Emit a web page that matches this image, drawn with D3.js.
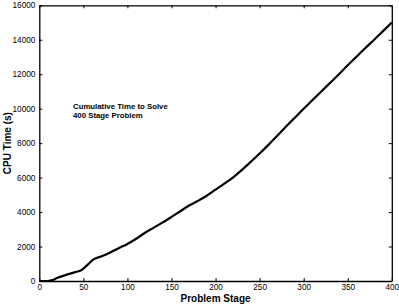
<!DOCTYPE html>
<html><head><meta charset="utf-8">
<script src="https://cdn.jsdelivr.net/npm/d3@7"></script>
<style>body{margin:0;background:#fff}svg{display:block}text{font-family:"Liberation Sans",Arial,sans-serif}</style>
</head><body><svg id="c" width="399" height="306"></svg>
<script>
const stages = [0,10,15,20,30,40,48,55,62,70,80,90,100,110,120,130,140,150,160,170,180,190,200,210,220,230,240,250,260,270,280,290,300,310,320,330,340,350,360,370,380,390,400];
const cpuTime = [0,0,50,170,350,500,640,950,1270,1420,1640,1900,2150,2450,2800,3100,3400,3720,4050,4380,4650,4950,5300,5650,6020,6450,6920,7400,7900,8430,8960,9480,10000,10500,11000,11500,12000,12520,13020,13520,14000,14500,15000];
const xTicks = [0,50,100,150,200,250,300,350,400];
const yTicks = [0,2000,4000,6000,8000,10000,12000,14000,16000];
const annotation = ["Cumulative Time to Solve","400 Stage Problem"];

const svg = d3.select("#c");
const L=39.3, R=391.8, T=5.3, B=281;
const x = d3.scaleLinear().domain([0,400]).range([L,R]);
const y = d3.scaleLinear().domain([0,16000]).range([B,T]);

const g = svg.append("g");
const ax = (a,p)=>a.tickSizeInner(-3).tickSizeOuter(0).tickPadding(p);
g.append("g").attr("transform",`translate(0,${B})`).call(ax(d3.axisBottom(x).tickValues(xTicks).tickFormat(d3.format("d")),3));
g.append("g").attr("transform",`translate(${L},0)`).call(ax(d3.axisLeft(y).tickValues(yTicks).tickFormat(d3.format("d")),4));
g.append("g").attr("transform",`translate(0,${T})`).call(ax(d3.axisTop(x).tickValues(xTicks).tickFormat(""),4));
g.append("g").attr("transform",`translate(${R},0)`).call(ax(d3.axisRight(y).tickValues(yTicks).tickFormat(""),4));
g.selectAll(".domain").attr("stroke","#000").attr("stroke-width",1.3);
g.selectAll(".tick line").attr("stroke","#000");
g.selectAll(".tick text").attr("font-size",8.2).attr("fill","#000").attr("font-family","Liberation Sans, Arial, sans-serif");

svg.append("path").datum(stages.map((s,i)=>[s,cpuTime[i]]))
  .attr("fill","none").attr("stroke","#000").attr("stroke-width",2.2).attr("stroke-linejoin","round")
  .attr("d",d3.line().curve(d3.curveMonotoneX).x(d=>x(d[0])).y(d=>y(d[1])));

svg.append("text").attr("x",(L+R)/2).attr("y",301.5).attr("text-anchor","middle")
  .attr("font-size",10).attr("font-weight","bold").text("Problem Stage");
svg.append("text").attr("transform",`translate(11,${(T+B)/2}) rotate(-90)`).attr("text-anchor","middle")
  .attr("font-size",10).attr("font-weight","bold").text("CPU Time (s)");
annotation.forEach((t,i)=>svg.append("text").attr("x",73).attr("y",109+i*9.2)
  .attr("font-size",7.8).attr("font-weight","bold").text(t));
</script></body></html>
